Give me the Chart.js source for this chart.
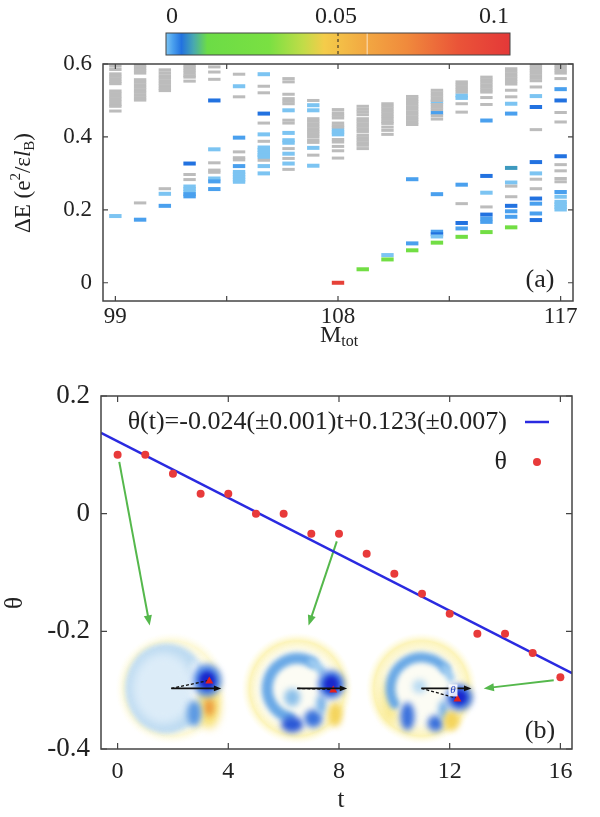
<!DOCTYPE html>
<html><head><meta charset="utf-8">
<script src="https://cdn.jsdelivr.net/npm/chart.js@4.4.1/dist/chart.umd.min.js"></script>
<style>
html,body{margin:0;padding:0;background:#fff;}
#wrap{position:relative;width:600px;height:817px;}
canvas{position:absolute;left:0;}
#c1{top:0;} #c2{top:350px;}
</style></head><body>
<div id="wrap"><canvas id="c1" width="600" height="350"></canvas><canvas id="c2" width="600" height="467"></canvas></div>
<script>
const SERIF = "'Liberation Serif','Times New Roman',serif";
const INK = '#222';

// ---- panel (a): spectrum, value of each coloured level on the colour bar
const L = 0.0, B = 0.002, D = 0.0045, T = 0.007, G = 0.02, R = 0.095;
const mTot = [99, 100, 101, 102, 103, 104, 105, 106, 107, 108, 109, 110, 111, 112, 113, 114, 115, 116, 117];
const grayE = [
  [0.594, 0.585, 0.573, 0.566, 0.559, 0.552, 0.546, 0.526, 0.519, 0.511, 0.504, 0.497, 0.489, 0.484, 0.471],
  [0.596, 0.589, 0.582, 0.575, 0.557, 0.55, 0.543, 0.536, 0.529, 0.522, 0.514, 0.507, 0.501, 0.219],
  [0.584, 0.576, 0.568, 0.561, 0.554, 0.547, 0.54, 0.533, 0.527, 0.258],
  [0.596, 0.589, 0.582, 0.575, 0.568, 0.564, 0.553, 0.297, 0.283],
  [0.592, 0.578, 0.558, 0.329, 0.309, 0.303],
  [0.572, 0.51, 0.359, 0.343, 0.337],
  [0.539, 0.521, 0.438, 0.388, 0.336],
  [0.56, 0.551, 0.517, 0.505, 0.498, 0.491, 0.446, 0.438, 0.368, 0.341, 0.311],
  [0.5, 0.45, 0.443, 0.436, 0.429, 0.422, 0.415, 0.408, 0.401, 0.392, 0.385, 0.35],
  [0.475, 0.466, 0.459, 0.452, 0.438, 0.431, 0.427, 0.393, 0.386, 0.374, 0.362, 0.342],
  [0.484, 0.476, 0.469, 0.461, 0.45, 0.443, 0.436, 0.429, 0.422, 0.415, 0.405, 0.398, 0.391, 0.384, 0.377, 0.368],
  [0.491, 0.484, 0.477, 0.47, 0.463, 0.456, 0.449, 0.442, 0.437, 0.427, 0.418, 0.407],
  [0.511, 0.504, 0.497, 0.49, 0.483, 0.476, 0.469, 0.462, 0.455, 0.448, 0.441, 0.434],
  [0.528, 0.521, 0.514, 0.507, 0.5, 0.489, 0.482, 0.475, 0.458, 0.449],
  [0.551, 0.544, 0.537, 0.53, 0.523, 0.491, 0.468, 0.217],
  [0.564, 0.557, 0.55, 0.543, 0.536, 0.529, 0.523, 0.508, 0.489, 0.208],
  [0.587, 0.58, 0.573, 0.566, 0.559, 0.552, 0.545, 0.528, 0.51, 0.265, 0.236],
  [0.596, 0.589, 0.582, 0.575, 0.568, 0.561, 0.554, 0.537, 0.42, 0.284, 0.258],
  [0.596, 0.589, 0.582, 0.575, 0.56, 0.467, 0.441, 0.324, 0.307, 0.286, 0.277]
];
const colE = [
  [0.183],
  [0.173],
  [0.244, 0.211],
  [0.327, 0.264, 0.257, 0.25, 0.243, 0.237],
  [0.5, 0.366, 0.286, 0.278, 0.257],
  [0.539, 0.398, 0.32, 0.304, 0.297, 0.29, 0.283, 0.277],
  [0.572, 0.464, 0.407, 0.371, 0.364, 0.357, 0.35, 0.345, 0.32, 0.3],
  [0.473, 0.411, 0.391, 0.384, 0.354, 0.327],
  [0.487, 0.473, 0.37, 0.321],
  [0.42, 0.413, 0.407, 0.0],
  [0.037],
  [0.076, 0.064],
  [0.284, 0.108, 0.089],
  [0.496, 0.466, 0.243, 0.14, 0.133, 0.127, 0.11],
  [0.514, 0.507, 0.269, 0.164, 0.149, 0.126],
  [0.445, 0.293, 0.247, 0.187, 0.176, 0.167, 0.139],
  [0.491, 0.464, 0.315, 0.275, 0.211, 0.196, 0.181, 0.152],
  [0.512, 0.482, 0.331, 0.3, 0.231, 0.217, 0.19, 0.172],
  [0.531, 0.5, 0.347, 0.249, 0.236, 0.222, 0.215, 0.208, 0.201]
];
const colV = [
  [L], [B], [L, B], [D, L, L, L, B, B], [D, L, L, B, B],
  [L, B, B, L, L, L, L, L], [L, D, L, L, L, L, L, L, L, L], [L, L, L, L, L, L], [L, L, L, L],
  [L, L, L, R], [G], [L, G], [B, B, G], [L, B, B, B, D, L, G], [L, L, B, D, B, G],
  [B, D, L, D, B, B, G], [L, B, T, L, D, B, B, G], [L, D, D, L, D, B, B, D], [B, D, D, B, L, L, L, L, L]
];
const xTicksA = [99, 103.5, 108, 112.5, 117];
const xLabelsA = [99, 108, 117];
const yTicksA = [0, 0.2, 0.4, 0.6];
const cbTicks = [0, 0.05, 0.1];
const cbStops = [
  [0, '#7cc4f2'], [0.002, '#4aa0ee'], [0.0045, '#2272e0'], [0.008, '#48a8b0'], [0.012, '#6cdc46'],
  [0.03, '#7ae042'], [0.04, '#c2dc48'], [0.046, '#f4cc4a'], [0.058, '#f2a842'], [0.07, '#f08a3c'],
  [0.085, '#ea5438'], [0.1, '#e43838']
];

// ---- panel (b): angle against time
const tVals = [0, 1, 2, 3, 4, 5, 6, 7, 8, 9, 10, 11, 12, 13, 14, 15, 16];
const thetaVals = [0.1, 0.1, 0.068, 0.034, 0.034, 0.0, 0.0, -0.034, -0.034, -0.068, -0.102, -0.136, -0.17, -0.204, -0.204, -0.237, -0.278];
const fitSlope = -0.024, fitIntercept = 0.123;
const fitT = [-0.6, 16.42];
const xTicksB = [0, 4, 8, 12, 16];
const yTicksB = [-0.4, -0.2, 0, 0.2];
const insetT = [1.94, 6.49, 10.98];
const insetTheta = -0.297;
const arrowFromT = [0.06, 7.92, 15.76], arrowFromTheta = [0.088, -0.047, -0.283];
const arrowToT = [1.16, 6.9, 13.23], arrowToTheta = [-0.19, -0.19, -0.297];

function hex(c) { return [1, 3, 5].map(i => parseInt(c.slice(i, i + 2), 16)); }
function cbColor(v) {
  for (let i = 1; i < cbStops.length; i++) {
    if (v <= cbStops[i][0]) {
      const [v0, c0] = cbStops[i - 1], [v1, c1] = cbStops[i];
      const f = (v - v0) / (v1 - v0), a = hex(c0), b = hex(c1);
      return 'rgb(' + a.map((x, k) => Math.round(x + (b[k] - x) * f)).join(',') + ')';
    }
  }
  return cbStops[cbStops.length - 1][1];
}

const grayPts = [], colPts = [];
mTot.forEach((m, i) => {
  grayE[i].forEach(e => grayPts.push({ x: m, y: e }));
  colE[i].forEach((e, k) => colPts.push({ x: m, y: e, v: colV[i][k] }));
});

function rich(ctx, parts, x, y) {
  let w = 0;
  parts.forEach(p => { ctx.font = (p.it ? 'italic ' : '') + p.s + 'px ' + SERIF; w += ctx.measureText(p.t).width; });
  let cx = x - w / 2;
  parts.forEach(p => {
    ctx.font = (p.it ? 'italic ' : '') + p.s + 'px ' + SERIF;
    ctx.fillText(p.t, cx, y + (p.dy || 0));
    cx += ctx.measureText(p.t).width;
  });
}

function frame(xt, yt, len) {
  return {
    id: 'frame',
    afterDatasetsDraw(chart) {
      const { ctx, chartArea: a, scales: { x, y } } = chart;
      ctx.save();
      ctx.strokeStyle = '#444';
      ctx.lineWidth = 1.5;
      ctx.strokeRect(a.left, a.top, a.right - a.left, a.bottom - a.top);
      ctx.lineWidth = 1.2;
      ctx.beginPath();
      xt.forEach(v => {
        const px = x.getPixelForValue(v);
        ctx.moveTo(px, a.bottom); ctx.lineTo(px, a.bottom - len);
        ctx.moveTo(px, a.top); ctx.lineTo(px, a.top + len);
      });
      yt.forEach(v => {
        const py = y.getPixelForValue(v);
        ctx.moveTo(a.left, py); ctx.lineTo(a.left + len, py);
        ctx.moveTo(a.right, py); ctx.lineTo(a.right - len, py);
      });
      ctx.stroke();
      ctx.restore();
    }
  };
}

const decorA = {
  id: 'decorA',
  afterDraw(chart) {
    const ctx = chart.ctx;
    ctx.save();
    // colour bar
    const x0 = 166, x1 = 510, y0 = 33, y1 = 55;
    const grad = ctx.createLinearGradient(x0, 0, x1, 0);
    cbStops.forEach(([v, c]) => grad.addColorStop(v / 0.1, c));
    ctx.fillStyle = grad;
    ctx.fillRect(x0, y0, x1 - x0, y1 - y0);
    ctx.strokeStyle = 'rgba(255,255,255,0.45)';
    ctx.lineWidth = 1.5;
    ctx.beginPath(); ctx.moveTo(x0 + 0.585 * (x1 - x0), y0); ctx.lineTo(x0 + 0.585 * (x1 - x0), y1); ctx.stroke();
    ctx.strokeStyle = '#222';
    ctx.lineWidth = 1;
    ctx.setLineDash([3, 3]);
    ctx.beginPath(); ctx.moveTo((x0 + x1) / 2, y0); ctx.lineTo((x0 + x1) / 2, y1); ctx.stroke();
    ctx.setLineDash([]);
    ctx.strokeStyle = '#444';
    ctx.strokeRect(x0, y0, x1 - x0, y1 - y0);
    ctx.fillStyle = INK;
    ctx.textBaseline = 'middle';
    ctx.textAlign = 'left';
    const cbx = [172, 336, 494];
    cbTicks.forEach((v, i) => { rich(ctx, [{ t: String(v), s: 24 }], cbx[i], 17); });
    // axis titles
    ctx.save();
    ctx.translate(24, 183);
    ctx.rotate(-Math.PI / 2);
    rich(ctx, [{ t: 'ΔE (e', s: 23 }, { t: '2', s: 15, dy: -8 }, { t: '/ε', s: 23 }, { t: 'l', s: 23, it: true }, { t: 'B', s: 15, dy: 6 }, { t: ')', s: 23 }], 0, 0);
    ctx.restore();
    rich(ctx, [{ t: 'M', s: 24 }, { t: 'tot', s: 16, dy: 6 }], 339, 336);
    rich(ctx, [{ t: '(a)', s: 26 }], 540, 280);
    ctx.restore();
  }
};

new Chart(document.getElementById('c1'), {
  type: 'scatter',
  data: {
    datasets: [
      { data: grayPts, pointStyle: 'line', pointRadius: 6.2, pointBorderWidth: 3, pointBorderColor: '#bcbcbc', pointHoverRadius: 6.2 },
      { data: colPts, pointStyle: 'line', pointRadius: 6.2, pointBorderWidth: 4, pointBorderColor: colPts.map(p => cbColor(p.v)), pointHoverRadius: 6.2 }
    ]
  },
  options: {
    responsive: false, animation: false, devicePixelRatio: 1,
    layout: { padding: { top: 64, right: 27, left: 0, bottom: 0 } },
    plugins: { legend: { display: false }, tooltip: { enabled: false } },
    scales: {
      x: {
        type: 'linear', min: 98.5, max: 117.5,
        afterBuildTicks: s => { s.ticks = xTicksA.map(v => ({ value: v })); },
        afterFit: s => { s.height = 49; },
        grid: { display: false, drawTicks: false }, border: { display: false },
        ticks: { autoSkip: false, maxRotation: 0, padding: 2, color: INK, font: { family: SERIF, size: 23 },
          callback: v => xLabelsA.includes(v) ? String(v) : '' }
      },
      y: {
        min: -0.05, max: 0.6,
        afterBuildTicks: s => { s.ticks = yTicksA.map(v => ({ value: v })); },
        afterFit: s => { s.width = 103; },
        grid: { display: false, drawTicks: false }, border: { display: false },
        ticks: { padding: 11, color: INK, font: { family: SERIF, size: 23 }, callback: v => v === 0 ? '0' : v.toFixed(1) }
      }
    }
  },
  plugins: [frame(xTicksA, yTicksA, 5), decorA]
});

// ---- panel (b)
function blob(ctx, x, y, rx, ry, color, blur) {
  ctx.save();
  ctx.filter = 'blur(' + blur + 'px)';
  ctx.fillStyle = color;
  ctx.beginPath(); ctx.ellipse(x, y, rx, ry, 0, 0, 2 * Math.PI); ctx.fill();
  ctx.restore();
}
function band(ctx, x, y, r, a0, a1, w, color, blur) {
  ctx.save();
  ctx.filter = 'blur(' + blur + 'px)';
  ctx.strokeStyle = color; ctx.lineWidth = w; ctx.lineCap = 'round';
  ctx.beginPath(); ctx.arc(x, y, r, a0 * Math.PI / 180, a1 * Math.PI / 180); ctx.stroke();
  ctx.restore();
}
function arrow(ctx, x0, y0, x1, y1, color, w, head) {
  const ang = Math.atan2(y1 - y0, x1 - x0);
  ctx.save();
  ctx.strokeStyle = color; ctx.fillStyle = color; ctx.lineWidth = w;
  ctx.beginPath(); ctx.moveTo(x0, y0);
  ctx.lineTo(x1 - Math.cos(ang) * head * 0.8, y1 - Math.sin(ang) * head * 0.8); ctx.stroke();
  ctx.beginPath(); ctx.moveTo(x1, y1);
  ctx.lineTo(x1 - head * Math.cos(ang - 0.38), y1 - head * Math.sin(ang - 0.38));
  ctx.lineTo(x1 - head * Math.cos(ang + 0.38), y1 - head * Math.sin(ang + 0.38));
  ctx.closePath(); ctx.fill();
  ctx.restore();
}
function halo(ctx, cx, cy, strong) {
  const g = ctx.createRadialGradient(cx, cy, 0, cx, cy, 56);
  g.addColorStop(0, 'rgba(255,250,215,0)');
  g.addColorStop(0.62, 'rgba(252,242,180,' + (strong * 0.5) + ')');
  g.addColorStop(0.85, 'rgba(250,236,140,' + strong + ')');
  g.addColorStop(1, 'rgba(255,250,210,0)');
  ctx.fillStyle = g;
  ctx.beginPath(); ctx.arc(cx, cy, 56, 0, 2 * Math.PI); ctx.fill();
}
function pointer(ctx, cx, cy, tx, ty) {
  ctx.save();
  ctx.setLineDash([3, 2]);
  ctx.strokeStyle = '#111'; ctx.lineWidth = 1.3;
  ctx.beginPath(); ctx.moveTo(cx, cy); ctx.lineTo(tx, ty); ctx.stroke();
  ctx.setLineDash([]);
  ctx.fillStyle = '#e02020';
  ctx.beginPath(); ctx.moveTo(tx, ty - 4); ctx.lineTo(tx + 4, ty + 3); ctx.lineTo(tx - 4, ty + 3); ctx.closePath(); ctx.fill();
  ctx.restore();
  arrow(ctx, cx, cy, cx + 50, cy, '#111', 1.6, 8);
}

const decorB = {
  id: 'decorB',
  beforeDatasetsDraw(chart) {
    const { ctx, scales: { x, y } } = chart;
    const cy = y.getPixelForValue(insetTheta);
    const c = insetT.map(t => x.getPixelForValue(t));
    ctx.save();
    // inset 1
    let cx = c[0];
    halo(ctx, cx, cy, 0.35);
    blob(ctx, cx - 5, cy, 41, 45, '#bcdaf1', 2.5);
    blob(ctx, cx - 8, cy, 31, 36, '#dcecf8', 5);
    blob(ctx, cx + 24, cy + 2, 5, 30, '#f6fafd', 3);
    blob(ctx, cx + 38, cy + 18, 11, 22, '#f8e27a', 4);
    blob(ctx, cx + 38, cy + 19, 5, 9, '#eb9a3e', 3);
    blob(ctx, cx + 23, cy + 25, 7, 13, '#5a98e2', 3);
    blob(ctx, cx + 36, cy - 8, 14, 16, '#4a82e4', 3);
    blob(ctx, cx + 36, cy - 8, 8, 9, '#1a28cc', 2);
    pointer(ctx, cx, cy, cx + 38, cy - 8);
    // inset 2
    cx = c[1];
    halo(ctx, cx, cy, 0.6);
    blob(ctx, cx, cy, 40, 40, '#fcfcf4', 4);
    band(ctx, cx, cy, 30, 105, 300, 11, '#6aa9e6', 2.5);
    band(ctx, cx, cy, 30, 300, 325, 9, '#9ccaf0', 2.5);
    blob(ctx, cx - 5, cy + 36, 11, 8, '#2a58d6', 3);
    blob(ctx, cx + 16, cy + 30, 9, 9, '#3a72dc', 3);
    blob(ctx, cx + 24, cy + 16, 5, 10, '#78b2ea', 3);
    blob(ctx, cx - 5, cy + 9, 8, 9, '#8cc0ea', 3);
    blob(ctx, cx + 38, cy + 26, 7, 12, '#f4d45c', 3);
    blob(ctx, cx + 34, cy - 4, 13, 14, '#3a6fe0', 3);
    blob(ctx, cx + 34, cy - 4, 7, 8, '#1a28cc', 2);
    pointer(ctx, cx, cy, cx + 36, cy + 1);
    // inset 3
    cx = c[2];
    halo(ctx, cx, cy, 0.6);
    blob(ctx, cx - 30, cy + 12, 10, 22, 'rgba(248,226,110,0.7)', 5);
    blob(ctx, cx + 2, cy, 34, 34, '#fcfcf4', 4);
    band(ctx, cx, cy, 31, 150, 320, 10, '#6aa9e6', 2.5);
    band(ctx, cx, cy, 31, 320, 340, 8, '#9ccaf0', 2.5);
    blob(ctx, cx - 14, cy + 28, 7, 14, '#3a70dc', 3);
    blob(ctx, cx + 14, cy + 35, 8, 8, '#3a70dc', 3);
    blob(ctx, cx + 22, cy + 22, 5, 10, '#78b2ea', 3);
    blob(ctx, cx - 2, cy - 2, 7, 7, '#b8daf2', 3);
    blob(ctx, cx + 30, cy + 32, 8, 10, '#f4d45c', 3);
    blob(ctx, cx + 38, cy + 9, 13, 13, '#3a6fe0', 3);
    blob(ctx, cx + 38, cy + 9, 7, 7, '#1a28cc', 2);
    pointer(ctx, cx, cy, cx + 36, cy + 10);
    ctx.fillStyle = 'rgba(255,255,255,0.85)';
    ctx.fillRect(cx + 27, cy - 4, 9, 12);
    ctx.fillStyle = '#2040c0';
    ctx.font = 'italic 11px ' + SERIF;
    ctx.textAlign = 'center'; ctx.textBaseline = 'middle';
    ctx.fillText('θ', cx + 31.5, cy + 2);
    // green arrows
    arrowFromT.forEach((t, i) => {
      arrow(ctx, x.getPixelForValue(t), y.getPixelForValue(arrowFromTheta[i]),
        x.getPixelForValue(arrowToT[i]), y.getPixelForValue(arrowToTheta[i]), '#55b84c', 2, 11);
    });
    ctx.restore();
  },
  afterDraw(chart) {
    const ctx = chart.ctx;
    ctx.save();
    ctx.fillStyle = INK;
    ctx.textBaseline = 'middle';
    ctx.textAlign = 'right';
    ctx.font = '26px ' + SERIF;
    ctx.fillText('θ(t)=-0.024(±0.001)t+0.123(±0.007)', 507, 72);
    ctx.fillText('θ', 507, 112);
    ctx.strokeStyle = '#2a2ae0'; ctx.lineWidth = 2.5;
    ctx.beginPath(); ctx.moveTo(525, 72); ctx.lineTo(549, 72); ctx.stroke();
    ctx.fillStyle = '#e83a3a';
    ctx.beginPath(); ctx.arc(537, 112, 4, 0, 2 * Math.PI); ctx.fill();
    ctx.fillStyle = INK;
    ctx.textAlign = 'left';
    ctx.save();
    ctx.translate(15, 253);
    ctx.rotate(-Math.PI / 2);
    rich(ctx, [{ t: 'θ', s: 25 }], 0, 0);
    ctx.restore();
    rich(ctx, [{ t: 't', s: 25 }], 341, 450);
    rich(ctx, [{ t: '(b)', s: 26 }], 540, 381);
    ctx.restore();
  }
};

new Chart(document.getElementById('c2'), {
  type: 'scatter',
  data: {
    datasets: [
      { type: 'line', data: fitT.map(t => ({ x: t, y: fitSlope * t + fitIntercept })), borderColor: '#2a2ae0', borderWidth: 2.5, pointRadius: 0, order: 2 },
      { data: tVals.map((t, i) => ({ x: t, y: thetaVals[i] })), pointRadius: 4, pointHoverRadius: 4, pointBackgroundColor: '#e83a3a', pointBorderWidth: 0, order: 1 }
    ]
  },
  options: {
    responsive: false, animation: false, devicePixelRatio: 1,
    layout: { padding: { top: 46, right: 28, left: 0, bottom: 0 } },
    plugins: { legend: { display: false }, tooltip: { enabled: false } },
    scales: {
      x: {
        type: 'linear', min: -0.6, max: 16.42,
        afterBuildTicks: s => { s.ticks = xTicksB.map(v => ({ value: v })); },
        afterFit: s => { s.height = 68; },
        grid: { display: false, drawTicks: false }, border: { display: false },
        ticks: { autoSkip: false, maxRotation: 0, padding: 8, color: INK, font: { family: SERIF, size: 24 } }
      },
      y: {
        min: -0.4, max: 0.2,
        afterBuildTicks: s => { s.ticks = yTicksB.map(v => ({ value: v })); },
        afterFit: s => { s.width = 101; },
        grid: { display: false, drawTicks: false }, border: { display: false },
        ticks: { padding: 11, color: INK, font: { family: SERIF, size: 27 }, callback: v => v === 0 ? '0' : v.toFixed(1) }
      }
    }
  },
  plugins: [frame(xTicksB, yTicksB, 6), decorB]
});
</script>
</body></html>
